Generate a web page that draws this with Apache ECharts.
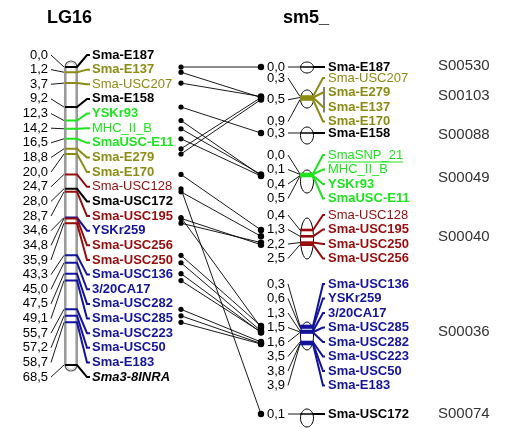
<!DOCTYPE html>
<html><head><meta charset="utf-8">
<script src="https://cdn.jsdelivr.net/npm/echarts@6/dist/echarts.min.js"></script>
<style>html,body{margin:0;padding:0;background:#fff}#c{width:518px;height:428px}</style>
</head><body><div id="c"></div>
<script>
// ---------------- DATA ----------------
const lgTitle = 'LG16';
const smTitle = 'sm5_';
const lgMarkers = ['Sma-E187','Sma-E137','Sma-USC207','Sma-E158','YSKr93','MHC_II_B','SmaUSC-E11','Sma-E279','Sma-E170','Sma-USC128','Sma-USC172','Sma-USC195','YSKr259','Sma-USC256','Sma-USC250','Sma-USC136','3/20CA17','Sma-USC282','Sma-USC285','Sma-USC223','Sma-USC50','Sma-E183','Sma3-8INRA'];
const lgPositions = [0.0,1.2,3.7,9.2,12.3,14.2,16.5,18.8,20.0,24.7,28.0,28.7,34.6,34.8,35.9,43.3,45.0,47.5,49.1,55.7,57.2,58.7,68.5];
const lgGroups = ['k','o','o','k','g','g','g','o','o','r','k','r','b','r','r','b','b','b','b','b','b','b','k'];
const lgBold =   [1,1,0,1,1,0,1,1,1,0,1,1,1,1,1,1,1,1,1,1,1,1,1];
const lgItalic = [0,0,0,0,0,0,0,0,0,0,0,0,0,0,0,0,0,0,0,0,0,0,1];

const smScaffolds = ['S00530','S00103','S00088','S00049','S00040','S00036','S00074'];
const smMarkers = ['Sma-E187','Sma-USC207','Sma-E279','Sma-E137','Sma-E170','Sma-E158','SmaSNP_21','MHC_II_B','YSKr93','SmaUSC-E11','Sma-USC128','Sma-USC195','Sma-USC250','Sma-USC256','Sma-USC136','YSKr259','3/20CA17','Sma-USC285','Sma-USC282','Sma-USC223','Sma-USC50','Sma-E183','Sma-USC172'];
const smMarkerScaffold = ['S00530','S00103','S00103','S00103','S00103','S00088','S00049','S00049','S00049','S00049','S00040','S00040','S00040','S00040','S00036','S00036','S00036','S00036','S00036','S00036','S00036','S00036','S00074'];
const smPositions = [0.0,0.3,0.5,0.5,0.9,0.3,0.0,0.1,0.4,0.5,0.4,1.3,2.2,2.5,0.3,0.6,1.3,1.5,1.6,3.5,3.8,3.9,0.1];
const smGroups = ['k','o','o','o','o','k','g','g','g','g','r','r','r','r','b','b','b','b','b','b','b','b','k'];
const smBold =   [1,0,1,1,1,1,0,0,1,1,0,1,1,1,1,1,1,1,1,1,1,1,1];
const smUnderline = [0,0,0,0,0,0,1,0,0,0,0,0,0,0,0,0,0,0,0,0,0,0,0];

// ---------------- STYLE / LAYOUT ----------------
const FONT = '"Liberation Sans", Arial, sans-serif';
const COLORS = {k:'#000000', o:'#8c8c14', g:'#1ee41e', r:'#960c0c', b:'#14149a'};
const L = {
  lg: {titleX:47, posRight:48, chromL:65, chromR:77, nameX:92, rowTop:55, rowStep:14.64, dotX:181},
  sm: {titleX:283, dotX:261, posRight:285, lineStart:288, ellCx:307, ellRx:6.5, bandL:300, bandR:314, fanEnd:324, nameX:328, idX:438, rowStep:14.5, bracketX:324},
  smRowTop: {S00530:67, S00103:78, S00088:133, S00049:155, S00040:215, S00036:284, S00074:414},
  smBand:   {S00530:[67,0], S00103:[96.5,5], S00088:[133,0], S00049:[174,4], S00040:[230,7], S00036:[326,5], S00074:[414,0]},
  smEll:    {S00530:[67.5,5.5], S00103:[99,9], S00088:[135.5,8.5], S00049:[181.5,11.5], S00040:[238.5,20.5], S00036:[336,14], S00074:[418,9]},
  smIdY:    {S00530:66, S00103:96, S00088:135, S00049:178, S00040:237, S00036:332, S00074:414}
};
const fmt = v => v.toFixed(1).replace('.', ',');

// measure helper
const mctx = document.createElement('canvas').getContext('2d');
function textW(t, bold){ mctx.font = (bold?'bold ':'') + '13px ' + FONT; return mctx.measureText(t).width; }

// derived
function smIndexInScaffold(j){ let k=0; for(let t=0;t<j;t++) if(smMarkerScaffold[t]===smMarkerScaffold[j]) k++; return k; }
function smRowY(j){ return L.smRowTop[smMarkerScaffold[j]] + smIndexInScaffold(j)*L.sm.rowStep; }
function smMinPos(s){ let m=Infinity; smPositions.forEach((p,t)=>{ if(smMarkerScaffold[t]===s) m=Math.min(m,p); }); return m; }
function smBandY(j){ const s=smMarkerScaffold[j]; const b=L.smBand[s]; return b[0] + (smPositions[j]-smMinPos(s))*b[1]; }

// unique position labels per scaffold
const smPosLabels = [];
smScaffolds.forEach(s => {
  const seen = {};
  smPositions.forEach((p,j) => {
    if (smMarkerScaffold[j]!==s) return;
    const key = p.toFixed(1);
    if (!seen[key]) { seen[key] = {scaffold:s, pos:p, members:[]}; smPosLabels.push(seen[key]); }
    seen[key].members.push(j);
  });
});

// links: by shared marker name
const links = [];
lgMarkers.forEach((m,i) => { const j = smMarkers.indexOf(m); if (j>=0) links.push([i,j]); });
const lgLinked = lgMarkers.map(m => smMarkers.indexOf(m) >= 0);

// ---------------- CHART ----------------
const chart = echarts.init(document.getElementById('c'), null, {renderer:'canvas'});
const tStyle = {fontSize:18, fontWeight:'bold', fontFamily:FONT, color:'#000'};

function txt(text, x, y, o){
  return {type:'text', style:Object.assign({text, x, y, verticalAlign:'middle', align:'left', fontSize:13, fontFamily:FONT, fill:'#000'}, o||{})};
}

const option = {
  animation:false,
  backgroundColor:'#fff',
  title:[
    {text:lgTitle, left:L.lg.titleX, top:9, padding:0, textStyle:tStyle},
    {text:smTitle, left:L.sm.titleX, top:9, padding:0, textStyle:tStyle}
  ],
  grid:{left:0, right:0, top:67, bottom:63},
  xAxis:{type:'value', min:0, max:518, show:false},
  yAxis:{type:'value', min:0, max:68.5, inverse:true, show:false},
  series:[
    // chromosome body
    {type:'custom', coordinateSystem:'cartesian2d', silent:true, z:1,
     data:[[0, lgPositions[lgPositions.length-1]]],
     renderItem:(params, api) => {
       const y0 = api.coord([0, 0])[1], y1 = api.coord([0, api.value(1)])[1];
       const r = (L.lg.chromR - L.lg.chromL)/2;
       return {type:'group', children:[
         {type:'rect', shape:{x:L.lg.chromL, y:y0-r, width:2*r, height:y1-y0+2*r, r:r}, style:{fill:'#fff', stroke:'#5a5a5a', lineWidth:1.2}},
         {type:'rect', shape:{x:L.lg.chromL+1.5, y:y0-r+1.5, width:2*r-3, height:y1-y0+2*r-3, r:r-1.5}, style:{fill:'none', stroke:'#c4c4c4', lineWidth:1}}
       ]};
     }},
    // left markers
    {type:'custom', coordinateSystem:'cartesian2d', silent:true, z:3,
     data: lgPositions.map((p,i)=>[i,p]),
     renderItem:(params, api) => {
       const i = params.dataIndex;
       const y = api.coord([0, api.value(1)])[1];
       const row = L.lg.rowTop + i*L.lg.rowStep;
       const col = COLORS[lgGroups[i]];
       const ch = [
         txt(fmt(lgPositions[i]), L.lg.posRight, row, {align:'right'}),
         {type:'line', shape:{x1:L.lg.posRight+3, y1:row, x2:L.lg.chromL-1, y2:y}, style:{stroke:'#000', lineWidth:0.9}},
         {type:'polyline', shape:{points:[[L.lg.chromL, y],[L.lg.chromR, y],[L.lg.nameX-5, row],[L.lg.nameX-2, row]]}, style:{stroke:col, lineWidth:2, fill:null}},
         txt(lgMarkers[i], L.lg.nameX, row, {fill:col, fontWeight: lgBold[i]?'bold':'normal', fontStyle: lgItalic[i]?'italic':'normal'})
       ];
       if (lgLinked[i]) ch.push({type:'circle', shape:{cx:L.lg.dotX, cy:y, r:2.6}, style:{fill:'#000'}});
       return {type:'group', children:ch};
     }},
    // links
    {type:'custom', coordinateSystem:'cartesian2d', silent:true, z:2,
     data: links.map(([i,j]) => [i, lgPositions[i], j]),
     renderItem:(params, api) => {
       const lk = links[params.dataIndex];
       const yL = api.coord([0, api.value(1)])[1];
       const yR = smBandY(lk[1]);
       return {type:'group', children:[
         {type:'line', shape:{x1:L.lg.dotX, y1:yL, x2:L.sm.dotX, y2:yR}, style:{stroke:'#000', lineWidth:0.9}},
         {type:'circle', shape:{cx:L.sm.dotX, cy:yR, r:3.2}, style:{fill:'#000'}}
       ]};
     }},
    // scaffold ellipses and ids
    {type:'custom', coordinateSystem:'none', silent:true, z:4,
     data: smScaffolds.map((s,k)=>[k]),
     renderItem:(params, api) => {
       const s = smScaffolds[params.dataIndex];
       const e = L.smEll[s];
       return {type:'group', children:[
         {type:'ellipse', shape:{cx:L.sm.ellCx, cy:e[0], rx:L.sm.ellRx, ry:e[1]}, style:{fill:'#fff', stroke:'#000', lineWidth:1}},
         {type:'text', style:{text:s, x:L.sm.idX, y:L.smIdY[s], verticalAlign:'middle', fontSize:15, fontFamily:FONT, fill:'#333'}}
       ]};
     }},
    // scaffold position labels
    {type:'custom', coordinateSystem:'none', silent:true, z:3,
     data: smPosLabels.map((d,k)=>[k]),
     renderItem:(params, api) => {
       const d = smPosLabels[params.dataIndex];
       const rows = d.members.map(smRowY);
       const row = rows.reduce((a,b)=>a+b,0)/rows.length;
       const band = smBandY(d.members[0]);
       const ch = [
         txt(fmt(d.pos), L.sm.posRight, row, {align:'right'}),
         {type:'line', shape:{x1:L.sm.lineStart, y1:row, x2:L.sm.bandL, y2:band}, style:{stroke:'#000', lineWidth:0.9}}
       ];
       if (d.members.length > 1) {
         ch.push({type:'line', shape:{x1:L.sm.bracketX, y1:Math.min(...rows)-5.5, x2:L.sm.bracketX, y2:Math.max(...rows)+5.5}, style:{stroke:'#000', lineWidth:1}});
       }
       return {type:'group', children:ch};
     }},
    // scaffold markers (bands, fans, names)
    {type:'custom', coordinateSystem:'none', silent:true, z:5,
     data: smMarkers.map((m,j)=>[j]),
     renderItem:(params, api) => {
       const j = params.dataIndex;
       const col = COLORS[smGroups[j]];
       const band = smBandY(j), row = smRowY(j);
       const bold = !!smBold[j];
       const ch = [
         {type:'line', shape:{x1:L.sm.bandL, y1:band, x2:L.sm.bandR, y2:band}, style:{stroke:col, lineWidth: smGroups[j]==='k'?1.5:2.6}},
         {type:'polyline', shape:{points:[[L.sm.bandR-1, band],[L.sm.fanEnd-1, row],[L.sm.fanEnd+1, row]]}, style:{stroke:col, lineWidth:2, fill:null}},
         txt(smMarkers[j], L.sm.nameX, row, {fill:col, fontWeight: bold?'bold':'normal'})
       ];
       if (smUnderline[j]) {
         const w = textW(smMarkers[j], bold);
         ch.push({type:'line', shape:{x1:L.sm.nameX, y1:row+7, x2:L.sm.nameX+w, y2:row+7}, style:{stroke:col, lineWidth:1}});
       }
       return {type:'group', children:ch};
     }}
  ]
};
chart.setOption(option);
</script>
</body></html>
